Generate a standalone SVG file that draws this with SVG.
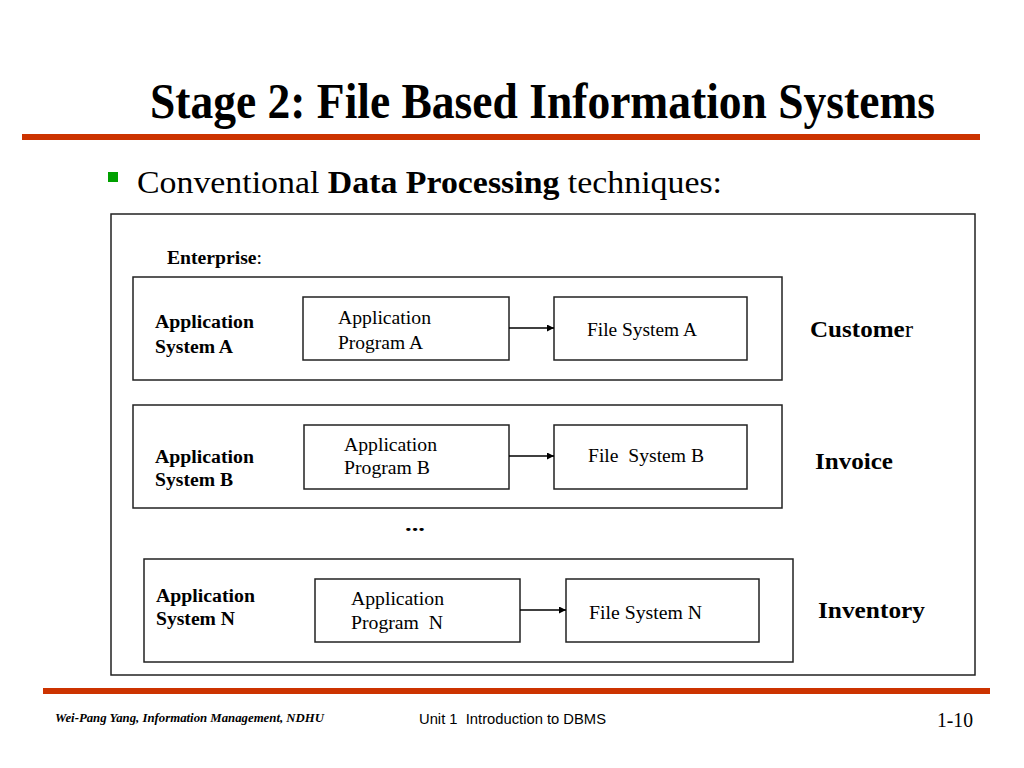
<svg xmlns="http://www.w3.org/2000/svg" width="1024" height="768" viewBox="0 0 1024 768">
<style>
.serif{font-family:"Liberation Serif","Times New Roman",serif;fill:#000}
.b{font-weight:bold}
.box{fill:#fff;stroke:#222;stroke-width:1.5}
.conn{stroke:#000;stroke-width:1.5;fill:none}
.lbl{font-size:18px}
.prog{font-size:18px}
.ent{font-size:24px;font-weight:bold}
</style>
<defs>
<marker id="arr" viewBox="0 0 10 10" refX="10" refY="5" markerWidth="7" markerHeight="7" markerUnits="userSpaceOnUse" orient="auto">
<path d="M0,0 L10,5 L0,10 z" fill="#000"/>
</marker>
</defs>
<rect width="1024" height="768" fill="#fff"/>

<g id="title">
<text class="serif b" x="150" y="118" font-size="50" textLength="785" lengthAdjust="spacingAndGlyphs">Stage 2: File Based Information Systems</text>
<rect x="22" y="134" width="958" height="6" fill="#CC3300"/>
</g>

<g id="subtitle">
<rect x="108" y="172" width="10" height="10" fill="#00A000"/>
<text class="serif" x="137" y="193" font-size="31" textLength="585" lengthAdjust="spacingAndGlyphs">Conventional <tspan font-weight="bold">Data Processing</tspan> techniques:</text>
</g>

<g id="enterprise">
<rect class="box" x="111" y="214" width="864" height="461"/>
<text class="serif" x="167" y="264" font-size="18" textLength="95" lengthAdjust="spacingAndGlyphs"><tspan font-weight="bold">Enterprise</tspan>:</text>
</g>

<g id="systemA">
<rect class="box" x="133" y="277" width="649" height="103"/>
<text class="serif b lbl" x="155" y="328" textLength="99" lengthAdjust="spacingAndGlyphs">Application</text>
<text class="serif b lbl" x="155" y="353" textLength="78" lengthAdjust="spacingAndGlyphs">System A</text>
</g>
<g id="programA">
<rect class="box" x="303" y="297" width="206" height="63"/>
<text class="serif prog" x="338" y="324" textLength="93" lengthAdjust="spacingAndGlyphs">Application</text>
<text class="serif prog" x="338" y="349" textLength="85" lengthAdjust="spacingAndGlyphs">Program A</text>
</g>
<g id="fileA">
<rect class="box" x="554" y="297" width="193" height="63"/>
<text class="serif prog" x="587" y="336" textLength="110" lengthAdjust="spacingAndGlyphs">File System A</text>
</g>
<g id="customer">
<text class="serif ent" x="810" y="337" textLength="103" lengthAdjust="spacingAndGlyphs">Custome<tspan font-weight="normal">r</tspan></text>
</g>

<g id="systemB">
<rect class="box" x="133" y="405" width="649" height="103"/>
<text class="serif b lbl" x="155" y="463" textLength="99" lengthAdjust="spacingAndGlyphs">Application</text>
<text class="serif b lbl" x="155" y="486" textLength="78" lengthAdjust="spacingAndGlyphs">System B</text>
</g>
<g id="programB">
<rect class="box" x="304" y="425" width="205" height="64"/>
<text class="serif prog" x="344" y="451" textLength="93" lengthAdjust="spacingAndGlyphs">Application</text>
<text class="serif prog" x="344" y="474" textLength="86" lengthAdjust="spacingAndGlyphs">Program B</text>
</g>
<g id="fileB">
<rect class="box" x="554" y="425" width="193" height="64"/>
<text class="serif prog" x="588" y="462" textLength="116" lengthAdjust="spacingAndGlyphs" xml:space="preserve">File  System B</text>
</g>
<g id="invoice">
<text class="serif ent" x="815" y="469" textLength="78" lengthAdjust="spacingAndGlyphs">Invoice</text>
</g>

<g id="ellipsis">
<text class="serif b" x="405" y="531" font-size="18" textLength="20" lengthAdjust="spacingAndGlyphs">...</text>
</g>

<g id="systemN">
<rect class="box" x="144" y="559" width="649" height="103"/>
<text class="serif b lbl" x="156" y="602" textLength="99" lengthAdjust="spacingAndGlyphs">Application</text>
<text class="serif b lbl" x="156" y="625" textLength="79" lengthAdjust="spacingAndGlyphs">System N</text>
</g>
<g id="programN">
<rect class="box" x="315" y="579" width="205" height="63"/>
<text class="serif prog" x="351" y="605" textLength="93" lengthAdjust="spacingAndGlyphs">Application</text>
<text class="serif prog" x="351" y="629" textLength="92" lengthAdjust="spacingAndGlyphs" xml:space="preserve">Program  N</text>
</g>
<g id="fileN">
<rect class="box" x="566" y="579" width="193" height="63"/>
<text class="serif prog" x="589" y="619" textLength="113" lengthAdjust="spacingAndGlyphs">File System N</text>
</g>
<g id="inventory">
<text class="serif ent" x="818" y="618" textLength="107" lengthAdjust="spacingAndGlyphs">Inventory</text>
</g>

<g id="connectors">
<line class="conn" x1="509" y1="328" x2="554" y2="328" marker-end="url(#arr)"/>
<line class="conn" x1="509" y1="456" x2="554" y2="456" marker-end="url(#arr)"/>
<line class="conn" x1="520" y1="610" x2="566" y2="610" marker-end="url(#arr)"/>
</g>

<g id="footer">
<rect x="43" y="688" width="947" height="6" fill="#CC3300"/>
<text class="serif" x="55" y="722" font-size="12" font-weight="bold" font-style="italic" textLength="269" lengthAdjust="spacingAndGlyphs">Wei-Pang Yang, Information Management, NDHU</text>
<text x="419" y="724" font-family="Liberation Sans, Arial, sans-serif" font-size="15" textLength="187" lengthAdjust="spacingAndGlyphs" xml:space="preserve">Unit 1  Introduction to DBMS</text>
<text class="serif" x="937" y="727" font-size="21" textLength="36" lengthAdjust="spacingAndGlyphs">1-10</text>
</g>
</svg>
